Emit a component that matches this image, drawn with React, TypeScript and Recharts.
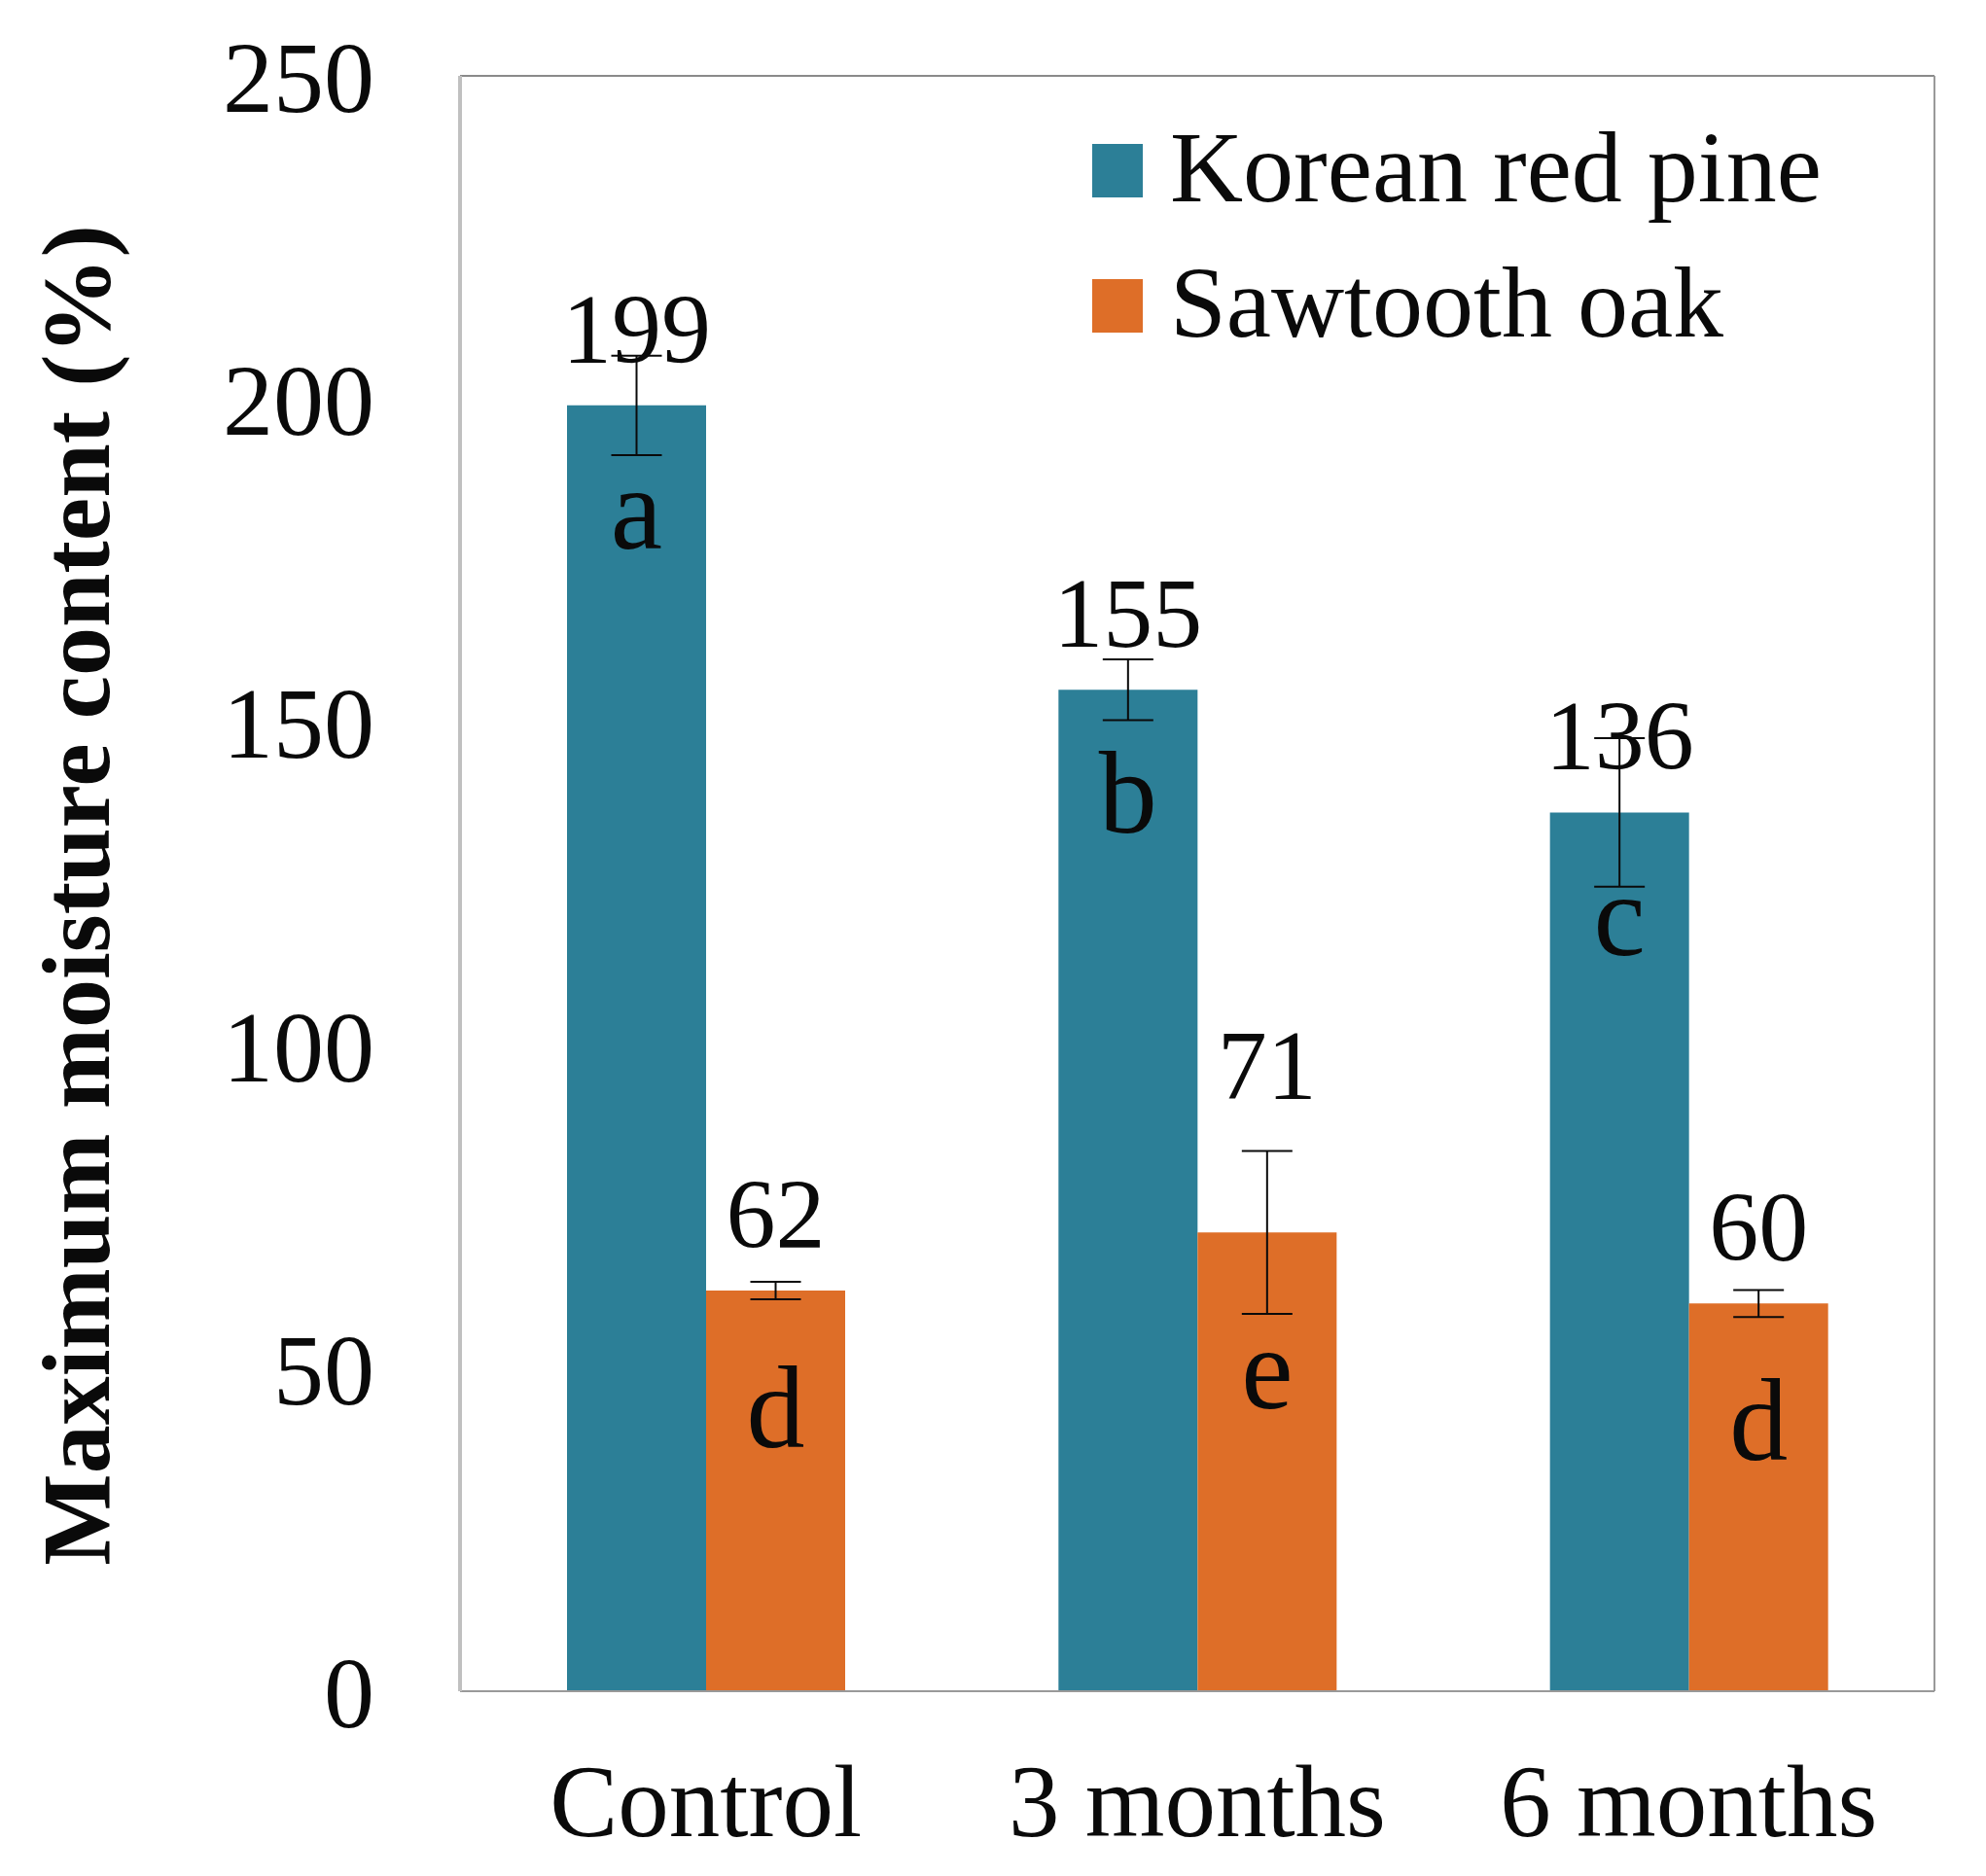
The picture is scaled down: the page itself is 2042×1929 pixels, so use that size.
import React from 'react';
import { BarChart, Bar, XAxis, YAxis, ErrorBar, LabelList, Legend, Label, CartesianGrid } from 'recharts';

const categories = ['Control', '3 months', '6 months'];
const pineValues = [199, 155, 136];
const pineErrors = [7.7, 4.7, 11.5];
const oakValues = [62, 71, 60];
const oakErrors = [1.35, 12.6, 2.1];
const pineLetters = ['a', 'b', 'c'];
const oakLetters = ['d', 'e', 'd'];
const yTicks = [0, 50, 100, 150, 200, 250];
const seriesNames = ['Korean red pine', 'Sawtooth oak'];

const data = categories.map((name, i) => ({
  name,
  pine: pineValues[i],
  pineErr: pineErrors[i],
  oak: oakValues[i],
  oakErr: oakErrors[i],
  pineLetter: pineLetters[i],
  oakLetter: oakLetters[i],
}));

const FONT = '"Liberation Serif", "Times New Roman", serif';
const TEAL = '#2c7f97';
const ORANGE = '#de6e28';
const INK = '#0a0a0a';

// pixel nudges (styling only)
const VALUE_NUDGE: Record<string, number> = { 'oak-1': -93 };
const LETTER_OFFSET: Record<string, number> = { pine: 147, oak: 161 };
const LETTER_NUDGE: Record<string, number> = { 'oak-1': 20 };

const makeValueLabel = (series: string) => (props: any) => {
  const { x, y, width, value, index } = props;
  const nudge = VALUE_NUDGE[`${series}-${index}`] || 0;
  return (
    <text
      x={Number(x) + Number(width) / 2}
      y={Number(y) - 44 + nudge}
      textAnchor="middle"
      fontFamily={FONT}
      fontSize={102}
      fill={INK}
    >
      {value}
    </text>
  );
};

const makeLetterLabel = (series: string) => (props: any) => {
  const { x, y, width, value, index } = props;
  const nudge = LETTER_NUDGE[`${series}-${index}`] || 0;
  return (
    <text
      x={Number(x) + Number(width) / 2}
      y={Number(y) + LETTER_OFFSET[series] + nudge}
      textAnchor="middle"
      fontFamily={FONT}
      fontSize={120}
      fill={INK}
    >
      {value}
    </text>
  );
};

const YTitle = (props: any) => {
  const vb = props.viewBox || { x: 0, y: 78, width: 473, height: 1661 };
  const cx = vb.x + 112;
  const cy = vb.y + vb.height / 2 + 12;
  return (
    <text
      x={cx}
      y={cy}
      transform={`rotate(-90 ${cx} ${cy})`}
      textAnchor="middle"
      fontFamily={FONT}
      fontWeight="bold"
      fontSize={100}
      fill={INK}
    >
      Maximum moisture content (%)
    </text>
  );
};

const LegendContent = (props: any) => {
  const payload = props.payload || [];
  return (
    <div style={{ fontFamily: FONT }}>
      {payload.map((p: any) => (
        <div key={p.value} style={{ display: 'flex', alignItems: 'center', height: 139 }}>
          <div style={{ width: 52, height: 55, background: p.color, marginRight: 28 }} />
          <span style={{ fontSize: 104, lineHeight: '104px', color: INK, position: 'relative', top: -4, whiteSpace: 'nowrap' }}>
            {p.value}
          </span>
        </div>
      ))}
    </div>
  );
};

const topEdge = ({ offset }: any) => [offset.top];
const rightEdge = ({ offset }: any) => [offset.left + offset.width];

export default function App() {
  return (
    <div style={{ position: 'absolute', left: 0, top: 0, background: '#fff' }}>
      <BarChart
        width={2042}
        height={1929}
        data={data}
        margin={{ top: 78, right: 53, bottom: 0, left: 0 }}
        barCategoryGap={110}
        barGap={0}
      >
        <CartesianGrid
          vertical={false}
          horizontalCoordinatesGenerator={topEdge}
          stroke="#8a8a8a"
          strokeWidth={2}
        />
        <CartesianGrid
          horizontal={false}
          verticalCoordinatesGenerator={rightEdge}
          stroke="#999999"
          strokeWidth={2}
        />
        <XAxis
          dataKey="name"
          height={190}
          tickSize={0}
          tickMargin={74}
          axisLine={{ stroke: '#999999', strokeWidth: 2 }}
          tickLine={false}
          tick={{ fontFamily: FONT, fontSize: 105, fill: INK }}
        />
        <YAxis
          width={473}
          domain={[0, 250]}
          ticks={yTicks}
          tickSize={0}
          tickMargin={88}
          tickLine={false}
          axisLine={{ stroke: '#c0c0c0', strokeWidth: 4 }}
          tick={{ fontFamily: FONT, fontSize: 104, fill: INK }}
          label={<Label content={<YTitle />} />}
        />
        <Legend
          layout="vertical"
          align="center"
          verticalAlign="middle"
          wrapperStyle={{ left: 1123, top: 106, width: 820, height: 278 }}
          content={<LegendContent />}
        />
        <Bar dataKey="pine" name={seriesNames[0]} fill={TEAL} isAnimationActive={false}>
          <ErrorBar dataKey="pineErr" direction="y" width={26} stroke={INK} strokeWidth={2} />
          <LabelList dataKey="pine" content={makeValueLabel('pine')} />
          <LabelList dataKey="pineLetter" content={makeLetterLabel('pine')} />
        </Bar>
        <Bar dataKey="oak" name={seriesNames[1]} fill={ORANGE} isAnimationActive={false}>
          <ErrorBar dataKey="oakErr" direction="y" width={26} stroke={INK} strokeWidth={2} />
          <LabelList dataKey="oak" content={makeValueLabel('oak')} />
          <LabelList dataKey="oakLetter" content={makeLetterLabel('oak')} />
        </Bar>
      </BarChart>
    </div>
  );
}
